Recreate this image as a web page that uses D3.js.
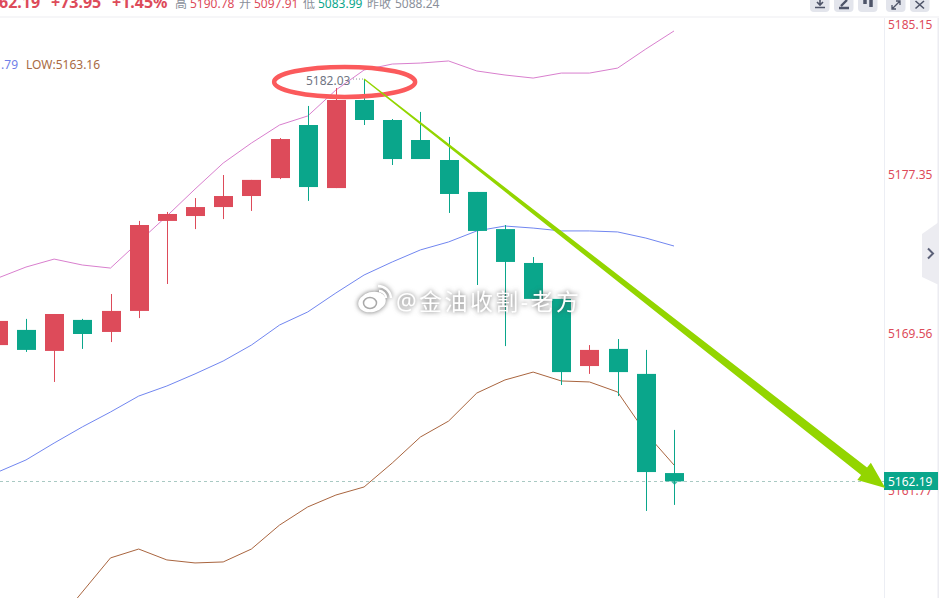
<!DOCTYPE html>
<html><head><meta charset="utf-8">
<script src="https://cdn.jsdelivr.net/npm/d3@7"></script>
<style>
html,body{margin:0;padding:0;background:#fff;overflow:hidden}
svg{display:block}
text{font-family:"Noto Sans","Noto Sans CJK SC",sans-serif}
.wm{font-family:"Noto Sans CJK SC",sans-serif;filter:drop-shadow(0 0 2.5px rgba(70,70,70,.8))}
</style></head><body>
<svg id="c" width="939" height="598"></svg>
<script>
const opens  =[5169.01,5169.76,5168.72,5170.25,5169.66,5170.69,5175.10,5175.34,5175.78,5176.32,5177.20,5179.95,5176.71,5181.25,5180.21,5179.17,5178.13,5176.52,5174.70,5173.04,5171.28,5167.97,5168.82,5167.58,5162.66];
const closes =[5170.20,5168.77,5170.54,5169.56,5170.69,5174.90,5175.44,5175.78,5176.32,5177.11,5179.22,5176.76,5181.25,5180.21,5178.18,5178.18,5176.42,5174.61,5173.09,5171.28,5167.67,5168.77,5167.67,5162.71,5162.25];
const highs  =[5170.20,5170.30,5170.54,5170.30,5171.52,5175.10,5175.54,5176.22,5177.35,5177.11,5179.27,5180.94,5181.87,5182.34,5180.26,5180.63,5179.33,5176.52,5174.90,5173.33,5171.28,5169.01,5169.31,5168.77,5164.80];
const lows   =[5169.01,5168.67,5167.18,5168.82,5169.16,5170.34,5172.01,5174.70,5175.19,5175.59,5177.15,5176.08,5176.71,5179.95,5177.87,5178.18,5175.49,5171.96,5168.96,5171.28,5167.03,5167.58,5166.48,5160.78,5161.08];
const upper  =[5172.30,5172.84,5173.23,5172.94,5172.79,5174.07,5175.34,5176.66,5177.97,5179.01,5179.95,5180.42,5181.77,5182.81,5183.12,5183.17,5183.28,5182.76,5182.55,5182.39,5182.65,5182.65,5182.91,5183.90,5184.84];
const middle =[5162.71,5163.31,5164.15,5164.95,5165.69,5166.48,5166.98,5167.58,5168.22,5169.01,5170.00,5170.64,5171.57,5172.45,5173.09,5173.68,5174.07,5174.61,5174.85,5174.75,5174.61,5174.61,5174.56,5174.26,5173.87];
const lower  =[null,null,5155.07,5156.76,5158.45,5158.89,5158.35,5158.20,5158.25,5158.89,5160.08,5160.98,5161.57,5161.97,5163.16,5164.45,5165.24,5166.63,5167.28,5167.67,5167.23,5167.18,5166.68,5164.65,5163.06];
const axisTicks=[5185.15,5177.35,5169.56,5161.77];
const lastPrice=5162.19;
const highLabel="5182.03";
const arrowFrom=[13,5182.34], arrowTo=[31.5,5161.92];
const ringCentre=[12.31,5182.19];
const headerItems=[["62.19",-1,"#dd4b5a",16,700],["+73.95",51,"#dd4b5a",16,700],["+1.45%",112,"#dd4b5a",16,700],["高",175,"#8a8f9a",12,400],["5190.78",190,"#dd4b5a",12,400],["开",239,"#8a8f9a",12,400],["5097.91",254,"#dd4b5a",12,400],["低",303,"#8a8f9a",12,400],["5083.99",318,"#0aa68b",12,400],["昨收",367,"#8a8f9a",12,400],["5088.24",395,"#8a8f9a",12,400]];

const RED="#dd4b5a",GREEN="#0aa68b";
const svg=d3.select("#c");
const x=d3.scaleLinear().domain([0,24]).range([-2.2,674]);
const y=d3.scaleLinear().domain([5161.77,5169.56,5177.35,5185.15]).range([491,334,175,25]);
const AX=884;
const priceY=Math.floor(y(lastPrice))-.5;

// header
svg.append("rect").attr("x",0).attr("y",16).attr("width",939).attr("height",2).attr("fill","#f6f6f8");
svg.selectAll(".hd").data(headerItems).join("text").attr("class","hd")
  .attr("x",d=>d[1]).attr("y",8).attr("fill",d=>d[2]).attr("font-size",d=>d[3]).attr("font-weight",d=>d[4]).text(d=>d[0]);
const btns=[810,834,858,886,910];
svg.selectAll(".btn").data(btns).join("rect").attr("class","btn").attr("x",d=>d).attr("y",-8).attr("width",19.5).attr("height",20).attr("rx",4).attr("fill","#e3e5ec");
const icon=svg.append("g").attr("fill","none").attr("stroke","#4e5468").attr("stroke-width",1.6);
icon.append("path").attr("d","M815 7.5H825M820 0V5M817 2l3 3 3-3");
icon.append("path").attr("d","M839 8H849M841 6L847 0").attr("stroke-width",2.4);
icon.append("path").attr("d","M865 0V4M871 0V7").attr("stroke-width",3.5);
icon.append("path").attr("d","M892 9L900 1M892 5V9H896M896 1H900V5").attr("stroke-width",1.3);
icon.append("path").attr("d","M915.5 1L924 8.5M924 1L915.5 8.5");

// frame
svg.append("line").attr("x1",AX+.5).attr("x2",AX+.5).attr("y1",18).attr("y2",598).attr("stroke","#eceef4");
svg.append("rect").attr("x",937.5).attr("y",18).attr("width",1.5).attr("height",580).attr("fill","#ececf1");
svg.append("path").attr("d","M922 234L939 222V285L922 277Z").attr("fill","#ececf1");
svg.append("path").attr("d","M928 248.5L933 253.5L928 258.5").attr("fill","none").attr("stroke","#5c6178").attr("stroke-width",2);

// axis
const axis=d3.axisRight(y).tickValues(axisTicks).tickSize(0).tickPadding(4).tickFormat(d3.format(".2f"));
const ag=svg.append("g").attr("transform",`translate(${AX},0)`).call(axis);
ag.select(".domain").remove();
ag.selectAll("text").attr("fill",RED).attr("font-size",12).style("font-family",'"Noto Sans",sans-serif');

// current price line
svg.append("line").attr("x1",0).attr("x2",AX).attr("y1",priceY).attr("y2",priceY)
  .attr("stroke","#a9c9c3").attr("stroke-dasharray","3 3");

// legend
svg.append("text").attr("x",18).attr("y",69).attr("text-anchor","end").attr("fill","#6f80e8").attr("font-size",12).text(".79");
svg.append("text").attr("x",26).attr("y",69).attr("fill","#a96a43").attr("font-size",12).text("LOW:5163.16");

// bands
const line=d3.line().defined(d=>d!=null).x((d,i)=>x(i)).y(d=>y(d));
[[upper,"#d97fce"],[middle,"#7186f0"],[lower,"#a9653f"]].forEach(([s,c])=>{
  svg.append("path").attr("d",line(s)).attr("fill","none").attr("stroke",c).attr("stroke-width",1);
});

// candles
const candles=opens.map((o,i)=>({i,o,c:closes[i],h:highs[i],l:lows[i]}));
const col=d=>d.c>=d.o?RED:GREEN;
const g=svg.selectAll(".k").data(candles).join("g").attr("class","k");
g.append("line").attr("x1",d=>Math.round(x(d.i))+.5).attr("x2",d=>Math.round(x(d.i))+.5)
  .attr("y1",d=>y(d.h)).attr("y2",d=>y(d.l)).attr("stroke",col).attr("stroke-width",1);
g.append("rect").attr("x",d=>Math.round(x(d.i))-9).attr("width",19)
  .attr("y",d=>y(Math.max(d.o,d.c))).attr("height",d=>Math.abs(y(d.o)-y(d.c))).attr("fill",col);
// pointer below last candle
svg.append("path").attr("d",`M${x(24)-3} ${priceY}h7l-3.5 3.5Z`).attr("fill",GREEN).attr("opacity",.75);

// high label
svg.append("text").attr("x",306).attr("y",85).attr("fill","#6f7482").attr("font-size",12).text(highLabel);
svg.append("line").attr("x1",353).attr("x2",x(13)).attr("y1",y(arrowFrom[1])).attr("y2",y(arrowFrom[1]))
  .attr("stroke","#8a8f9a").attr("stroke-dasharray","1 2");

// watermark
const wm=svg.append("g").attr("class","wm");
wm.append("ellipse").attr("cx",372).attr("cy",302).attr("rx",14).attr("ry",10).attr("fill","#fff").attr("transform","rotate(-15 372 302)");
wm.append("ellipse").attr("cx",370).attr("cy",303).attr("rx",6.5).attr("ry",5.5).attr("fill","none").attr("stroke","#a8a8a8").attr("stroke-width",1.5);
wm.append("path").attr("d","M378 286a13 13 0 0 1 13 12M379 291a7 7 0 0 1 7 7").attr("fill","none").attr("stroke","#fff").attr("stroke-width",2.4);
wm.append("text").attr("x",396).attr("y",310).attr("fill","#fff").attr("font-size",23).attr("letter-spacing",2.4).text("@金油收割-老方");

// price tag
svg.append("rect").attr("x",AX).attr("y",priceY-9.5).attr("width",54).attr("height",18).attr("fill",GREEN);
svg.append("text").attr("x",AX+4).attr("y",priceY+4.5).attr("fill","#fff").attr("font-size",12).text(lastPrice.toFixed(2));

// ring
svg.append("ellipse").attr("cx",x(ringCentre[0])).attr("cy",y(ringCentre[1])).attr("rx",70.5).attr("ry",15)
  .attr("fill","none").attr("stroke","#fb5a5c").attr("stroke-width",4.5);

// arrow
const ax0=x(arrowFrom[0]),ay0=y(arrowFrom[1]),ax1=x(arrowTo[0]),ay1=y(arrowTo[1]);
const len=Math.hypot(ax1-ax0,ay1-ay0),ux=(ax1-ax0)/len,uy=(ay1-ay0)/len,nx=-uy,ny=ux;
const hb=[ax1-ux*27,ay1-uy*27];
const pt=(p,w)=>[p[0]+nx*w,p[1]+ny*w];
svg.append("polygon").attr("fill","#93d500").attr("points",[
  pt([ax0,ay0],.6),pt(hb,4.8),pt(hb,11),[ax1,ay1],pt(hb,-11),pt(hb,-4.8),pt([ax0,ay0],-.6)
].map(p=>p.join(",")).join(" "));
</script></body></html>
